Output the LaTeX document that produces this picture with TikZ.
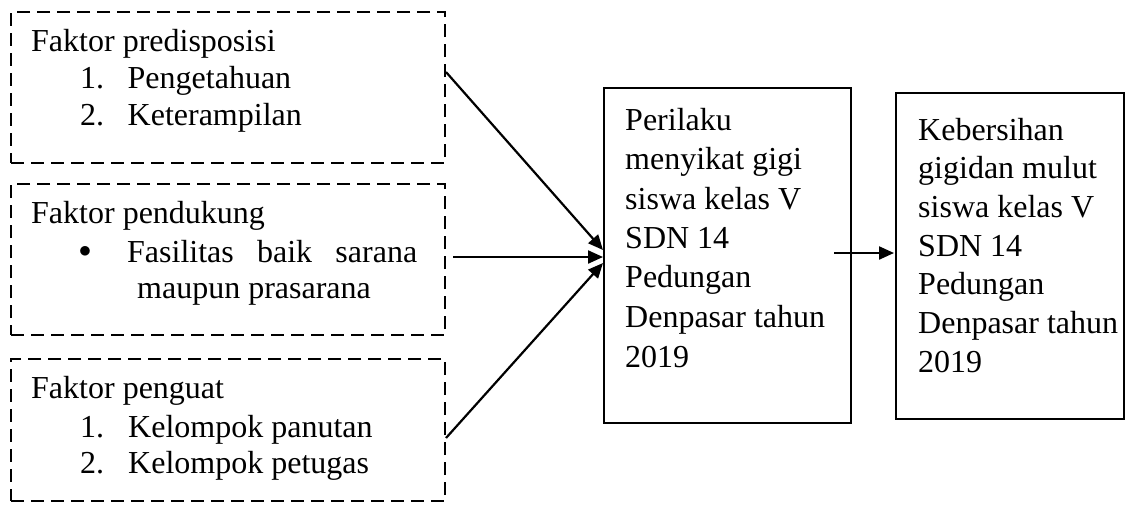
\documentclass[tikz,border=0pt]{standalone}
\usepackage{fontspec}
\setmainfont{Liberation Serif}
\usetikzlibrary{arrows.meta}
\begin{document}
\begin{tikzpicture}[x=1pt,y=-1pt,
  dbox/.style={draw, line width=2.6pt, dash pattern=on 13pt off 7pt, inner sep=0, minimum width=434pt},
  sbox/.style={draw, line width=2pt, inner sep=0},
  txt/.style={anchor=base west, inner sep=0, font=\fontsize{32}{38}\selectfont},
  arr/.style={line width=2.2pt, -{Triangle[length=15pt,width=13pt]}}]
\useasboundingbox (0,0) rectangle (1140,504);
% dashed boxes
\node[dbox, minimum height=151pt] (b1) at (228,87.5) {};
\node[dbox, minimum height=151pt] (b2) at (228,259.5) {};
\node[dbox, minimum height=142pt] (b3) at (228,430) {};
% solid boxes
\node[sbox, minimum width=247pt, minimum height=335pt] (b4) at (727.5,255.5) {};
\node[sbox, minimum width=228pt, minimum height=326pt] (b5) at (1010,256) {};
% box 1 text
\node[txt] (t11) at (31,51) {Faktor predisposisi};
\node[txt] (t12n) at (80,88) {1.};
\node[txt] (t12) at (127.5,88) {Pengetahuan};
\node[txt] (t13n) at (80,125) {2.};
\node[txt] (t13) at (127.5,125) {Keterampilan};
% box 2 text
\node[txt] (t21) at (31,223) {Faktor pendukung};
\node[inner sep=0, font=\fontsize{32}{38}\selectfont] (t22b) at (85,252) {$\bullet$};
\node[txt] (t22) at (127,262) {\makebox[290pt][s]{Fasilitas baik sarana}};
\node[txt] (t23) at (137,298) {maupun prasarana};
% box 3 text
\node[txt] (t31) at (31,398) {Faktor penguat};
\node[txt] (t32n) at (80,437) {1.};
\node[txt] (t32) at (128,437) {Kelompok panutan};
\node[txt] (t33n) at (80,473) {2.};
\node[txt] (t33) at (128,473) {Kelompok petugas};
% box 4 text
\node[txt] (t41) at (625,130) {Perilaku};
\node[txt] (t42) at (625,169.5) {menyikat gigi};
\node[txt] (t43) at (625,209) {siswa kelas V};
\node[txt] (t44) at (625,248) {SDN 14};
\node[txt] (t45) at (625,287.5) {Pedungan};
\node[txt] (t46) at (625,327) {Denpasar tahun};
\node[txt] (t47) at (625,367) {2019};
% box 5 text
\node[txt] (t51) at (918,140) {Kebersihan};
\node[txt] (t52) at (918,178.7) {gigidan mulut};
\node[txt] (t53) at (918,217.4) {siswa kelas V};
\node[txt] (t54) at (918,256) {SDN 14};
\node[txt] (t55) at (918,294.8) {Pedungan};
\node[txt] (t56) at (918,333.5) {Denpasar tahun};
\node[txt] (t57) at (918,372) {2019};
% connector endpoints
\coordinate (s1) at (446,72);
\coordinate (s2) at (453,257);
\coordinate (s3) at (446,438);
\coordinate (e1) at (603,250);
\coordinate (e2) at (603,257);
\coordinate (e3) at (603,263);
\coordinate (s4) at (834,253);
\coordinate (e4) at (894,253);
\draw[arr] (s1) -- (e1);
\draw[arr] (s2) -- (e2);
\draw[arr] (s3) -- (e3);
\draw[arr] (s4) -- (e4);
\end{tikzpicture}
\end{document}
